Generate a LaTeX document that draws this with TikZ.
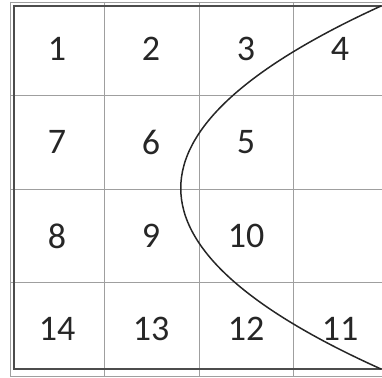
\documentclass[tikz,border=0pt]{standalone}
\usepackage{fontspec}
\setmainfont{Carlito}
\begin{document}
\begin{tikzpicture}[x=1pt,y=-1pt,
    gridline/.style={draw=gray!75, line width=0.8pt},
    frame/.style={draw=black!70, line width=1.8pt},
    cellnum/.style={font=\fontsize{36}{40}\selectfont, text=black!85},
    curve/.style={draw=black!85, line width=1.5pt}]
  \useasboundingbox (0,0) rectangle (382,377);
  % Grid lines
  \foreach \x in {10,104.5,199,293.5}
    \draw[gridline] (\x,2) -- (\x,376);
  \foreach \y in {2,95.5,189,282.5,376}
    \draw[gridline] (10,\y) -- (382,\y);
  % Outer frame
  \draw[frame] (382,6) -- (14,6) -- (14,369) -- (382,369);
  % Cell numbers
  \node[cellnum] (n1) at (57,49) {1};
  \node[cellnum] (n2) at (151,49) {2};
  \node[cellnum] (n3) at (246,49) {3};
  \node[cellnum] (n4) at (340,49) {4};
  \node[cellnum] (n7) at (57,142) {7};
  \node[cellnum] (n6) at (151,142) {6};
  \node[cellnum] (n5) at (246,142) {5};
  \node[cellnum] (n8) at (57,236) {8};
  \node[cellnum] (n9) at (151,236) {9};
  \node[cellnum] (n10) at (246,236) {10};
  \node[cellnum] (n14) at (57,329) {14};
  \node[cellnum] (n13) at (151,329) {13};
  \node[cellnum] (n12) at (246,329) {12};
  \node[cellnum] (n11) at (340,329) {11};
  % Curve
  \coordinate (top) at (381,6);
  \coordinate (bot) at (381,369);
  \draw[curve] (top) .. controls (114,128) and (114,249) .. (bot);
\end{tikzpicture}
\end{document}
